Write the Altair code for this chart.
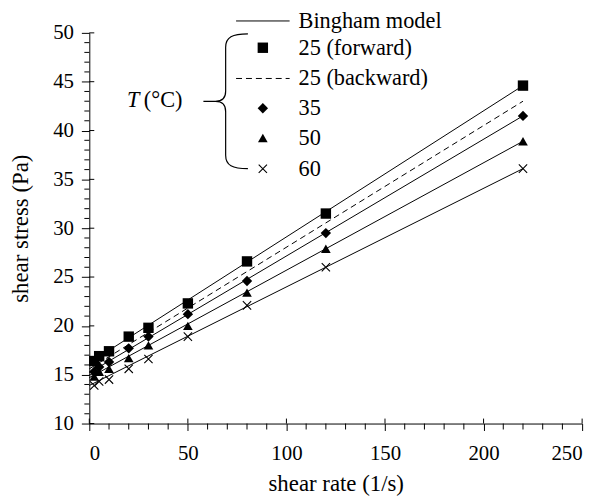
import altair as alt
import pandas as pd

# ---- data ----
shear_rate = [2.5, 5, 10, 20, 30, 50, 80, 120, 220]
stress_25_fwd = [16.4, 16.9, 17.4, 18.9, 19.8, 22.3, 26.6, 31.5, 44.6]
stress_35 = [15.3, 15.8, 16.3, 17.7, 18.9, 21.2, 24.6, 29.5, 41.5]
stress_50 = [14.8, 15.3, 15.6, 16.7, 18.0, 20.0, 23.4, 27.9, 38.9]
stress_60 = [13.9, 14.3, 14.5, 15.6, 16.6, 18.9, 22.1, 26.0, 36.1]

fit_x = [0, 220]
fit_25_fwd = [16.2, 44.6]
fit_25_bwd = [15.6, 43.0]
fit_35 = [15.2, 41.5]
fit_50 = [14.7, 38.9]
fit_60 = [13.9, 36.1]

x_major = [0, 50, 100, 150, 200, 250]
x_minor = [v for v in range(10, 250, 10) if v % 50 != 0]
y_major = [10, 15, 20, 25, 30, 35, 40, 45, 50]
y_minor = [v for v in range(11, 50) if v % 5 != 0]

legend_labels = ["Bingham model", "25 (forward)", "25 (backward)", "35", "50", "60"]

FONT = "Liberation Serif"
FS = 21
FS_T = 23
FS_L = 22.5
W, H = 497, 394

CROSS = "M-1,-1L1,1M-1,1L1,-1"
BRACE = ("M0.33,-1 C0.1,-1 0,-0.95 0,-0.8 L0,-0.15 C0,-0.05 -0.05,0 -0.15,0 L-0.33,0 "
         "M-0.15,0 C-0.05,0 0,0.05 0,0.15 L0,0.8 C0,0.95 0.1,1 0.33,1")

xscale = alt.Scale(domain=[0, 250], nice=False, zero=False)
yscale = alt.Scale(domain=[10, 50], nice=False, zero=False)

X = alt.X("x:Q", scale=xscale,
          axis=alt.Axis(values=x_major, title="shear rate (1/s)", tickSize=7,
                        labelPadding=12, titlePadding=10, grid=False, format="d"))
Y = alt.Y("y:Q", scale=yscale,
          axis=alt.Axis(values=y_major, title="shear stress (Pa)", tickSize=8,
                        labelPadding=8, titlePadding=20, grid=False, format="d"))
Xp = alt.X("x:Q", scale=xscale)
Yp = alt.Y("y:Q", scale=yscale)

# fitted lines
solid_rows = []
for name, ys in [("25f", fit_25_fwd), ("35", fit_35), ("50", fit_50), ("60", fit_60)]:
    for xv, yv in zip(fit_x, ys):
        solid_rows.append({"x": xv, "y": yv, "s": name})
solid_df = pd.DataFrame(solid_rows)
dash_df = pd.DataFrame({"x": fit_x, "y": fit_25_bwd})

lines = alt.Chart(solid_df).mark_line(color="black", strokeWidth=1).encode(
    x=X, y=Y, detail="s:N")
dashed = alt.Chart(dash_df).mark_line(color="black", strokeWidth=1, strokeDash=[6, 4]).encode(
    x=Xp, y=Yp)

layers = [lines, dashed]

series = [
    (stress_25_fwd, "square", True, 110),
    (stress_35, "diamond", True, 110),
    (stress_50, "triangle-up", True, 95),
    (stress_60, CROSS, False, 70),
]


def sym(df, shape, filled, size):
    if filled:
        return alt.Chart(df).mark_point(shape=shape, filled=True, size=size, color="black", opacity=1)
    return alt.Chart(df).mark_point(shape=shape, filled=False, size=size, color="black",
                                    strokeWidth=1.1, opacity=1)


for ys, shape, filled, size in series:
    df = pd.DataFrame({"x": shear_rate, "y": ys})
    layers.append(sym(df, shape, filled, size).encode(x=Xp, y=Yp))

# extra tick marks (inner halves of majors, minor ticks)
xmaj_df = pd.DataFrame({"x": x_major})
xmin_df = pd.DataFrame({"x": x_minor})
ymaj_df = pd.DataFrame({"y": y_major})
ymin_df = pd.DataFrame({"y": y_minor})
layers.append(alt.Chart(xmaj_df).mark_rule(color="black", strokeWidth=1).encode(
    x=Xp, y=alt.value(H - 5), y2=alt.value(H)))
layers.append(alt.Chart(xmin_df).mark_rule(color="black", strokeWidth=1).encode(
    x=Xp, y=alt.value(H), y2=alt.value(H + 6)))
layers.append(alt.Chart(ymaj_df).mark_rule(color="black", strokeWidth=1).encode(
    y=Yp, x=alt.value(0), x2=alt.value(5)))
layers.append(alt.Chart(ymin_df).mark_rule(color="black", strokeWidth=1).encode(
    y=Yp, x=alt.value(-5), x2=alt.value(0)))

# legend
one = pd.DataFrame({"a": [0]})
row_y = [-12, 15, 46, 76, 106, 137]
for lab, ry in zip(legend_labels, row_y):
    layers.append(alt.Chart(one).mark_text(align="left", baseline="middle", font=FONT,
                                           fontSize=FS_L, color="black").encode(
        x=alt.value(211), y=alt.value(ry), text=alt.value(lab)))
layers.append(alt.Chart(one).mark_rule(color="black", strokeWidth=1).encode(
    x=alt.value(148), x2=alt.value(202), y=alt.value(row_y[0])))
layers.append(alt.Chart(one).mark_rule(color="black", strokeWidth=1, strokeDash=[6, 4]).encode(
    x=alt.value(148), x2=alt.value(202), y=alt.value(row_y[2])))
for ry, shape, filled, size in [(row_y[1], "square", True, 110), (row_y[3], "diamond", True, 110),
                                (row_y[4], "triangle-up", True, 95), (row_y[5], CROSS, False, 70)]:
    layers.append(sym(one, shape, filled, size).encode(x=alt.value(175), y=alt.value(ry)))

# brace and T (°C)
layers.append(alt.Chart(one).mark_point(shape=BRACE, filled=False, size=136 * 136,
                                        color="black", strokeWidth=1.2, opacity=1).encode(
    x=alt.value(137.5), y=alt.value(69)))
layers.append(alt.Chart(one).mark_text(align="left", baseline="middle", font=FONT, fontSize=FS_L,
                                       fontStyle="italic", color="black").encode(
    x=alt.value(38), y=alt.value(68), text=alt.value("T")))
layers.append(alt.Chart(one).mark_text(align="left", baseline="middle", font=FONT, fontSize=FS_L,
                                       color="black").encode(
    x=alt.value(55), y=alt.value(68), text=alt.value("(°C)")))

chart = alt.layer(*layers).properties(
    width=W, height=H,
    autosize=alt.AutoSizeParams(type="none"),
    padding={"left": 82, "top": 23, "right": 15, "bottom": 72},
    background="white",
).configure_view(stroke=None).configure_axis(
    labelFont=FONT, labelFontSize=FS, titleFont=FONT, titleFontSize=FS_T,
    titleFontWeight="normal", labelColor="black", titleColor="black",
    domainColor="black", tickColor="black", domainWidth=1, tickWidth=1,
)

chart.save("out.html", embed_options={"renderer": "svg", "actions": False})
